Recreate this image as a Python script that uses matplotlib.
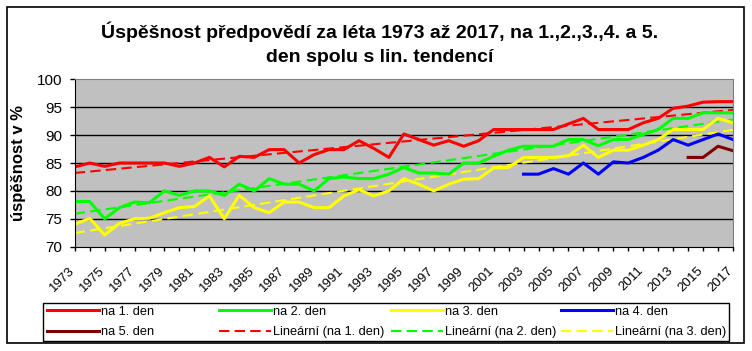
import matplotlib.pyplot as plt
import matplotlib.patches as patches
import matplotlib.transforms as mtransforms
from matplotlib.lines import Line2D
import numpy as np

plt.rcParams['font.family'] = ['Liberation Sans', 'DejaVu Sans']

years = np.arange(1973, 2018)

den1 = [84.3, 85, 84.4, 85, 85, 85, 85, 84.4, 85, 86, 84.3, 86.2, 86, 87.4, 87.4, 85,
        86.5, 87.4, 87.4, 89, 87.6, 86, 90.2, 89.2, 88.2, 89, 88, 89, 91, 91, 91, 91,
        91, 92, 93, 91, 91, 91, 92.2, 93, 94.8, 95.2, 95.9, 96, 96]
den2 = [78.1, 78.1, 75, 77, 78, 77.9, 80, 79.2, 80, 80, 79.2, 81.2, 80, 82.2, 81.2, 81.2,
        80, 82.2, 82.5, 82.2, 82.2, 83, 84.2, 83.2, 83.2, 83, 85, 85, 86.2, 87.3, 88, 88,
        88, 89.2, 89.2, 88.1, 89.2, 89.2, 90.1, 91, 93, 93, 94, 94, 94]
den3 = [74, 75.1, 72.1, 74.2, 75, 75.1, 76.1, 77, 77.2, 79.1, 75, 79.2, 77, 76.1, 78, 78,
        77, 77, 79.1, 80.2, 79.1, 80, 82.2, 81.2, 80, 81.2, 82.1, 82.2, 84.1, 84.2, 86, 86,
        86, 86.3, 88.2, 86, 87.3, 87.3, 88.2, 89.2, 91, 91, 91, 93, 92.2]
years4 = np.arange(2003, 2018)
den4 = [83, 83, 84, 83, 85, 83, 85.2, 85, 86, 87.3, 89.2, 88.2, 89.2, 90.2, 89.2]
years5 = np.arange(2014, 2018)
den5 = [86, 86, 88, 87.2]

labels = ["na 1. den", "na 2. den", "na 3. den", "na 4. den", "na 5. den",
          "Lineární (na 1. den)", "Lineární (na 2. den)", "Lineární (na 3. den)"]

RED, GREEN, YELLOW, BLUE, DARK = "#ff0000", "#00ff00", "#ffff00", "#0000ff", "#800000"

fig = plt.figure(figsize=(7.52, 3.51), dpi=100)
ax = fig.add_axes([74.7 / 752, 1 - 246.7 / 351, (733 - 74.7) / 752, (246.7 - 79.3) / 351])
ax.set_facecolor("#c0c0c0")

lw = 2.2
dash = dict(lw=1.5, dashes=(5, 2.5))
# trend lines first (under data)
for vals, col in [(den1, RED), (den2, GREEN), (den3, YELLOW)]:
    k, q = np.polyfit(years, vals, 1)
    ax.plot(years, k * years + q, color=col, **dash)

ax.plot(years, den1, color=RED, lw=lw, solid_joinstyle="round")
ax.plot(years, den2, color=GREEN, lw=lw, solid_joinstyle="round")
ax.plot(years, den3, color=YELLOW, lw=lw, solid_joinstyle="round")
ax.plot(years4, den4, color=BLUE, lw=lw, solid_joinstyle="round")
ax.plot(years5, den5, color=DARK, lw=lw, solid_joinstyle="round")

ax.set_xlim(1973, 2017)
ax.set_ylim(70, 100)
ax.set_yticks(range(70, 101, 5))
ax.set_xticks(years, minor=True)
ax.set_xticks(years[::2])
ax.set_xticklabels([str(y) for y in years[::2]], rotation=45, ha="right",
                   rotation_mode="anchor", fontsize=9.5)
ax.tick_params(axis="x", which="both", direction="out", length=3, width=1, pad=10)
ax.tick_params(axis="y", direction="out", length=3.5, width=1, labelsize=11, pad=5.5)
shift = mtransforms.ScaledTranslation(-6 / 100, 0, fig.dpi_scale_trans)
for t in ax.get_xticklabels():
    t.set_transform(t.get_transform() + shift)
for y in range(75, 100, 5):
    ax.axhline(y, color="black", lw=1, zorder=0.5)
for s in ["top", "right"]:
    ax.spines[s].set_color("#808080")
for s in ["left", "bottom"]:
    ax.spines[s].set_color("black")
ax.set_ylabel("úspěšnost v %", fontsize=12, fontweight="bold", labelpad=8)

fig.text(0.505, 0.875, "Úspěšnost předpovědí za léta 1973 až 2017, na 1.,2.,3.,4. a 5.\n"
         "den spolu s lin. tendencí", ha="center", va="center", fontsize=14,
         fontweight="bold", linespacing=1.5)

# outer border and legend frame
fig.patches.append(patches.Rectangle((7 / 752, 1 - 343 / 351), 737 / 752, 336 / 351,
                                     transform=fig.transFigure, fill=False, lw=1.2, ec="black"))
fig.patches.append(patches.Rectangle((43 / 752, 1 - 341 / 351), 686 / 752, 38 / 351,
                                     transform=fig.transFigure, fill=False, lw=1.0, ec="black"))

solid = dict(lw=lw)
handles = [Line2D([], [], color=RED, **solid), Line2D([], [], color=GREEN, **solid),
           Line2D([], [], color=YELLOW, **solid), Line2D([], [], color=BLUE, **solid),
           Line2D([], [], color=DARK, **solid), Line2D([], [], color=RED, **dash),
           Line2D([], [], color=GREEN, **dash), Line2D([], [], color=YELLOW, **dash)]
cols = [(0, 4), (1, 5), (2, 6), (3, 7)]
xstarts = [47, 219, 391, 561]
for (a, b), xs in zip(cols, xstarts):
    hs = [handles[a]] + ([handles[b]] if b < len(handles) else [])
    ls = [labels[a]] + ([labels[b]] if b < len(labels) else [])
    leg = fig.legend(hs, ls, loc="center left", bbox_to_anchor=(xs / 752, 1 - 322 / 351),
                     frameon=False, fontsize=9.2, handlelength=4.1, handletextpad=0.1,
                     labelspacing=0.65, borderpad=0, borderaxespad=0)

fig.savefig("out.png", dpi=100)
